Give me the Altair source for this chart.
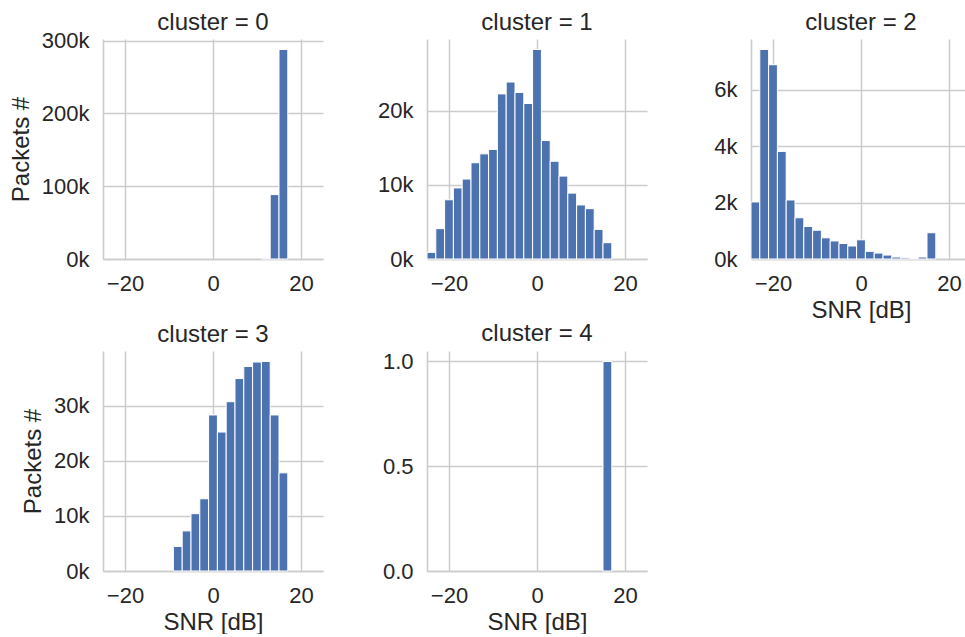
import altair as alt
import pandas as pd

# ---- data (2 dB bins from -25 to 17) ----
bin_starts = [-25, -23, -21, -19, -17, -15, -13, -11, -9, -7, -5, -3, -1, 1, 3, 5, 7, 9, 11, 13, 15]
bin_width = 2

cluster_ids = [0, 1, 2, 3, 4]

counts_c0 = [0, 0, 0, 0, 0, 0, 0, 0, 0, 0, 0, 0, 0, 0, 0, 0, 0, 0, 1000, 88500, 288000]
counts_c1 = [900, 4100, 8000, 9600, 10800, 13000, 14200, 14800, 22300, 23900, 22500,
             21000, 28300, 16000, 13200, 11200, 8900, 7300, 6800, 4000, 2200]
counts_c2 = [2020, 7420, 6880, 3810, 2090, 1460, 1150, 1020, 750, 640, 550,
             460, 680, 270, 210, 140, 70, 40, 20, 70, 930]
counts_c3 = [0, 0, 0, 0, 0, 0, 0, 0, 4460, 7270, 10400, 13100, 28300, 25200,
             30700, 34900, 37100, 37900, 38000, 28300, 17800]
counts_c4 = [0, 0, 0, 0, 0, 0, 0, 0, 0, 0, 0, 0, 0, 0, 0, 0, 0, 0, 0, 0, 1]

all_counts = [counts_c0, counts_c1, counts_c2, counts_c3, counts_c4]
y_tick_steps = [100000, 10000, 2000, 10000, 0.5]
x_ticks = [-20, 0, 20]
x_title = "SNR [dB]"
y_title = "Packets #"

# ---- style ----
FONT = "Liberation Sans"
TEXT = "#262626"
GRID = "#cccccc"
BAR = "#4c72b0"
PANEL_W = 220
PANEL_H = 220
X_MIN, X_MAX = -25, 25
px_per_db = PANEL_W / (X_MAX - X_MIN)
LABEL_HALF = 11  # half height of a 22px y tick label box

rows = []
for c, counts in zip(cluster_ids, all_counts):
    for b, n in zip(bin_starts, counts):
        rows.append({"cluster": c, "bin_start": b, "bin_end": b + bin_width, "count": n})
df = pd.DataFrame(rows)


def panel(i):
    counts = all_counts[i]
    ymax = max(counts) * 1.05
    step = y_tick_steps[i]
    yvals = [k * step for k in range(int(ymax // step) + 1)]
    width = PANEL_W if i != 2 else 214
    xmax = X_MIN + width / px_per_db

    # a top tick label that sticks out above the frame pushes the title up;
    # shift the title back down so every title sits at the same height
    top_gap = PANEL_H * (1 - yvals[-1] / ymax)
    overhang = max(0.0, LABEL_HALF - top_gap)
    title_dy = overhang if overhang > 1 else 0

    if i == 4:
        ylab = "format(datum.value, '.1f')"
    else:
        ylab = "format(datum.value / 1000, 'd') + 'k'"

    x_kwargs = dict(values=x_ticks,
                    labelExpr="datum.value < 0 ? '\u2212' + abs(datum.value) : '' + datum.value",
                    titleX=PANEL_W / 2)
    if i in (2, 3, 4):
        x_axis = alt.Axis(title=x_title, **x_kwargs)
    else:
        x_axis = alt.Axis(title=None, **x_kwargs)

    if i in (0, 3):
        y_axis = alt.Axis(title=y_title, values=yvals, labelExpr=ylab)
    else:
        y_axis = alt.Axis(title=None, values=yvals, labelExpr=ylab)

    data = df[(df["cluster"] == cluster_ids[i]) & (df["count"] > 0)]
    title_dx = (PANEL_W - width) / 2
    return (
        alt.Chart(data)
        .mark_bar(color=BAR, stroke="white", strokeWidth=1)
        .encode(
            x=alt.X("bin_start:Q", scale=alt.Scale(domain=[X_MIN, xmax], nice=False, zero=False), axis=x_axis),
            x2="bin_end:Q",
            y=alt.Y("count:Q", scale=alt.Scale(domain=[0, ymax], nice=False), axis=y_axis),
            y2=alt.datum(0),
        )
        .properties(
            width=width,
            height=PANEL_H,
            title=alt.TitleParams(text=f"cluster = {cluster_ids[i]}", dx=title_dx, dy=title_dy),
        )
    )


chart = (
    alt.concat(*[panel(i) for i in range(5)], columns=3,
               spacing=alt.RowColnumber(row=92, column=104), bounds="flush")
    .properties(padding={"left": 9, "top": 11, "right": 0, "bottom": 0})
    .configure_view(strokeOpacity=0)
    .configure_axis(
        ticks=False, tickSize=0,
        grid=True, gridColor=GRID, gridWidth=1.5,
        domainColor=GRID, domainWidth=1.6,
        labelFont=FONT, labelFontSize=22, labelColor=TEXT,
        titleFont=FONT, titleFontSize=24, titleColor=TEXT, titleFontWeight="normal",
    )
    .configure_axisX(labelPadding=14, titlePadding=4)
    .configure_axisY(labelPadding=14, titlePadding=8)
    .configure_title(font=FONT, fontSize=24, color=TEXT, fontWeight="normal",
                     anchor="middle", offset=0, baseline="alphabetic")
)

chart.save("out.html", embed_options={"renderer": "svg", "actions": False})
